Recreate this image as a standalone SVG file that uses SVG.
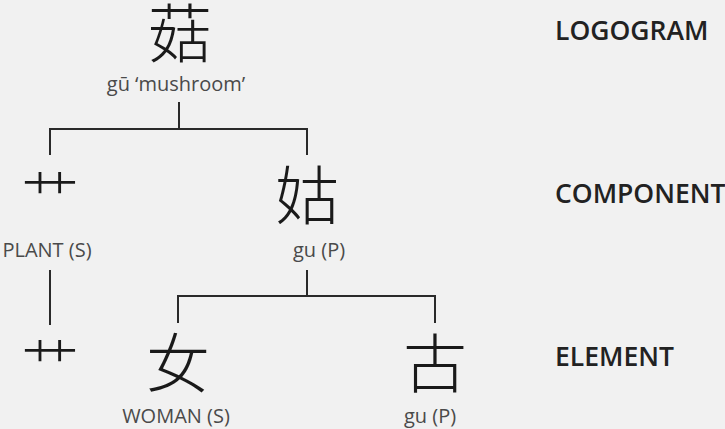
<svg xmlns="http://www.w3.org/2000/svg" width="725" height="429" viewBox="0 0 725 429">
<style>
.cjk{font-family:"Noto Sans CJK SC","Noto Sans CJK JP",sans-serif;font-weight:300;fill:#1a1a1a;text-anchor:middle}
.lbl{font-family:"Open Sans","Liberation Sans",sans-serif;font-size:20px;fill:#4a4a4a;text-anchor:middle}
.lvl{font-family:"Open Sans","Liberation Sans",sans-serif;font-size:26.5px;font-weight:600;fill:#222}
.ln{stroke:#2a2a2a;stroke-width:2;fill:none}
</style>
<rect width="725" height="429" fill="#f1f1f1"/>
<g id="connectors">
<path class="ln" d="M179,102V129M50,155V129H307V155"/>
<path class="ln" d="M50,270V325"/>
<path class="ln" d="M307,270V296M178,323V296H435V323"/>
</g>
<g id="logogram"><text class="cjk" x="180" y="57" font-size="64">菇</text><text class="lbl" x="176" y="91">gū ‘mushroom’</text></g>
<g id="plant"><text class="cjk" x="50" y="218" font-size="58">艹</text><text class="lbl" x="47" y="257">PLANT (S)</text></g>
<g id="gu-component"><text class="cjk" x="307" y="219" font-size="64">姑</text><text class="lbl" x="319" y="257">gu (P)</text></g>
<g id="plant-element"><text class="cjk" x="50" y="386" font-size="58">艹</text></g>
<g id="woman"><text class="cjk" x="178" y="387" font-size="64">女</text><text class="lbl" x="176" y="423">WOMAN (S)</text></g>
<g id="gu-element"><text class="cjk" x="435" y="387" font-size="64">古</text><text class="lbl" x="430" y="423">gu (P)</text></g>
<g id="levels">
<text class="lvl" x="555" y="40">LOGOGRAM</text>
<text class="lvl" x="555" y="203">COMPONENT</text>
<text class="lvl" x="555" y="366">ELEMENT</text>
</g>
</svg>
